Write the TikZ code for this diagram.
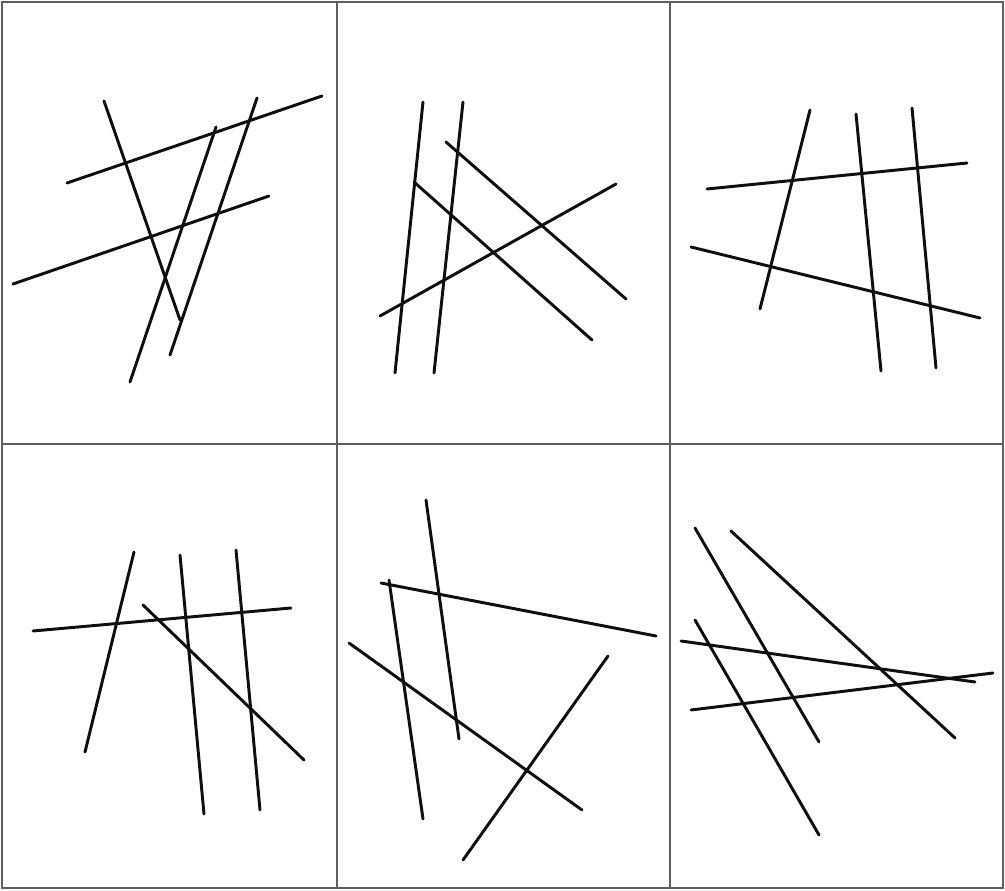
\documentclass[tikz,border=0pt]{standalone}
\usepackage{tikz}
\usetikzlibrary{calc}
\definecolor{framecol}{RGB}{95, 95, 95}
\definecolor{stickcol}{RGB}{15, 15, 15}
\tikzset{
  frame/.style = {draw=framecol, line width=1.3pt},
  stick/.style = {draw=stickcol, line width=2.1pt, line cap=round},
}

\begin{document}
\begin{tikzpicture}[x=0.025cm, y=-0.025cm]

  \useasboundingbox (0,0) rectangle (1005,891);

  %% ---------------- the grid ----------------
  \draw[frame] (2,2) rectangle (1003,888);
  \draw[frame] (337,2) -- (337,888);
  \draw[frame] (670,2) -- (670,888);
  \draw[frame] (2,444) -- (1003,444);

  %% ---------------- top row ----------------
  % left panel
  \foreach \a/\b in {{(67,183)}/{(322,96)}, {(13,284)}/{(269,196)},
                     {(104,101)}/{(180,320)}, {(130,382)}/{(216,127)},
                     {(170,355)}/{(257,98)}}
    \draw[stick] \a -- \b;

  % middle panel
  \foreach \a/\b in {{(395,373)}/{(423,102)}, {(434,373)}/{(463,102)},
                     {(446,142)}/{(626,299)}, {(414,182)}/{(592,340)},
                     {(380,316)}/{(616,184)}}
    \draw[stick] \a -- \b;

  % right panel
  \foreach \a/\b in {{(760,309)}/{(810,110)}, {(856,114)}/{(881,371)},
                     {(912,108)}/{(936,368)}, {(707,189)}/{(967,163)},
                     {(691,247)}/{(980,318)}}
    \draw[stick] \a -- \b;

  %% ---------------- bottom row ----------------
  % left panel
  \foreach \a/\b in {{(33,631)}/{(291,608)}, {(85,752)}/{(134,552)},
                     {(180,555)}/{(204,814)}, {(236,550)}/{(260,810)},
                     {(143,605)}/{(304,760)}}
    \draw[stick] \a -- \b;

  % middle panel
  \foreach \a/\b in {{(426,500)}/{(459,739)}, {(389,580)}/{(423,819)},
                     {(381,583)}/{(656,636)}, {(349,643)}/{(582,810)},
                     {(463,860)}/{(608,656)}}
    \draw[stick] \a -- \b;

  % right panel
  \foreach \a/\b in {{(695,528)}/{(819,742)}, {(731,531)}/{(955,738)},
                     {(695,620)}/{(819,835)}, {(681,641)}/{(975,682)},
                     {(691,710)}/{(993,673)}}
    \draw[stick] \a -- \b;

\end{tikzpicture}
\end{document}
